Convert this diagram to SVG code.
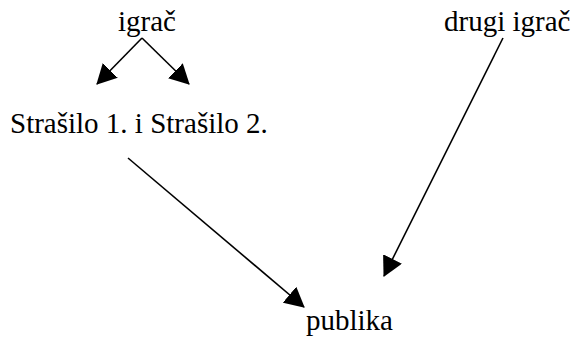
<svg xmlns="http://www.w3.org/2000/svg" width="577" height="340" viewBox="0 0 577 340">
<style>
text{font-family:'Liberation Serif','Times New Roman',serif;font-size:29px;fill:#000}
.c line{stroke:#000;stroke-width:1.6;fill:none}
</style>
<defs>
<marker id="ah" markerUnits="userSpaceOnUse" viewBox="0 0 20 21" markerWidth="20" markerHeight="21" refX="19" refY="10.5" orient="auto">
<path d="M0,0 L20,10.5 L0,21 z" fill="#000"/>
</marker>
</defs>
<rect width="577" height="340" fill="#fff"/>
<g id="igrac"><text x="118" y="31">igrač</text></g>
<g id="drugi-igrac"><text x="444" y="31">drugi igrač</text></g>
<g id="strasilo"><text x="10" y="132.5">Strašilo 1. i Strašilo 2.</text></g>
<g id="publika"><text x="306" y="330">publika</text></g>
<g class="c" id="connectors">
<line x1="142" y1="38" x2="97" y2="84" marker-end="url(#ah)"/>
<line x1="142" y1="38" x2="189" y2="84" marker-end="url(#ah)"/>
<line x1="128" y1="158" x2="304" y2="307" marker-end="url(#ah)"/>
<line x1="503" y1="38" x2="384" y2="276" marker-end="url(#ah)"/>
</g>
</svg>
